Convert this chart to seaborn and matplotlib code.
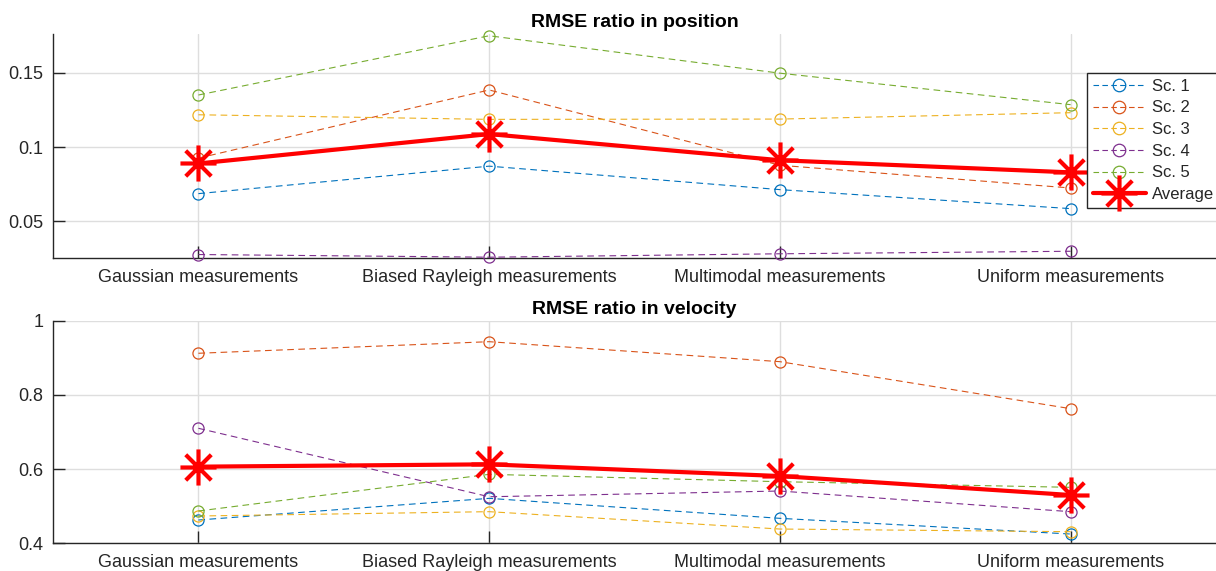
import matplotlib
matplotlib.use("Agg")
import matplotlib.pyplot as plt
import seaborn as sns
import pandas as pd
from matplotlib.ticker import FuncFormatter, FixedLocator
from matplotlib.path import Path

# ---- data ----
categories = ["Gaussian measurements", "Biased Rayleigh measurements",
              "Multimodal measurements", "Uniform measurements"]
series_names = ["Sc. 1", "Sc. 2", "Sc. 3", "Sc. 4", "Sc. 5"]
avg_name = "Average"

pos_sc1 = [0.0687, 0.0872, 0.0714, 0.0586]
pos_sc2 = [0.0926, 0.1385, 0.0878, 0.0725]
pos_sc3 = [0.1218, 0.1187, 0.1189, 0.1232]
pos_sc4 = [0.0277, 0.0259, 0.0282, 0.0299]
pos_sc5 = [0.1351, 0.1750, 0.1498, 0.1286]
pos_avg = [0.0890, 0.1088, 0.0912, 0.0830]

vel_sc1 = [0.4622, 0.5207, 0.4667, 0.4243]
vel_sc2 = [0.9127, 0.9440, 0.8900, 0.7630]
vel_sc3 = [0.4730, 0.4847, 0.4378, 0.4306]
vel_sc4 = [0.7100, 0.5250, 0.5405, 0.4847]
vel_sc5 = [0.4865, 0.5856, 0.5657, 0.5505]
vel_avg = [0.6063, 0.6126, 0.5810, 0.5297]

pos_yticks = [0.05, 0.1, 0.15]
vel_yticks = [0.4, 0.6, 0.8, 1.0]
titles = ["RMSE ratio in position", "RMSE ratio in velocity"]

# ---- style ----
sc_colors = ["#0072BD", "#D95319", "#EDB120", "#7E2F8E", "#77AC30"]
avg_color = "#FF0000"
text_color = "#262626"

sns.set_theme(style="white")
plt.rcParams["font.family"] = ["Liberation Sans", "DejaVu Sans"]

fig = plt.figure(figsize=(12.16, 5.71), dpi=100)
ax_top = fig.add_axes([0.0436, 0.548, 0.9564, 0.3925])
ax_bot = fig.add_axes([0.0436, 0.049, 0.9564, 0.3889])

# MATLAB-like asterisk: '+' plus a shorter 'x'
d = 0.707
asterisk = Path(
    [(-1, 0), (1, 0), (0, -1), (0, 1), (-d, -d), (d, d), (-d, d), (d, -d)],
    [Path.MOVETO, Path.LINETO] * 4,
)


def draw(ax, sc_list, avg, yticks, ylim, title):
    for name, vals, col in zip(series_names, sc_list, sc_colors):
        df = pd.DataFrame({"cat": categories, "val": vals})
        sns.lineplot(data=df, x="cat", y="val", ax=ax, color=col,
                     linestyle=(0, (6, 4)), linewidth=0.8, marker="o",
                     markersize=8, markerfacecolor="none",
                     markeredgecolor=col, markeredgewidth=0.9,
                     sort=False, label=name, zorder=3, clip_on=False)
    dfa = pd.DataFrame({"cat": categories, "val": avg})
    sns.lineplot(data=dfa, x="cat", y="val", ax=ax, color=avg_color,
                 linewidth=3, marker=asterisk, markersize=26,
                 markerfacecolor="none",
                 markeredgecolor=avg_color, markeredgewidth=3,
                 sort=False, label=avg_name, zorder=4, clip_on=False)
    ax.set_xlim(-0.5, 3.5)
    ax.set_ylim(*ylim)
    ax.yaxis.set_major_locator(FixedLocator(yticks))
    ax.yaxis.set_major_formatter(FuncFormatter(lambda v, p: f"{v:g}"))
    ax.set_xlabel("")
    ax.set_ylabel("")
    ax.set_title(title, fontsize=14, fontweight="bold", color="black", pad=5)
    ax.grid(True, color="#dedede", linewidth=1)
    ax.set_axisbelow(True)
    for s in ["top", "right"]:
        ax.spines[s].set_visible(False)
    for s in ["left", "bottom"]:
        ax.spines[s].set_color(text_color)
        ax.spines[s].set_linewidth(1)
    ax.tick_params(axis="both", direction="in", length=8.5, width=1,
                   color=text_color, labelcolor=text_color, labelsize=13,
                   left=True, bottom=True)
    ax.tick_params(axis="x", pad=8)
    ax.tick_params(axis="y", pad=7)
    leg = ax.get_legend()
    if leg is not None:
        leg.remove()


draw(ax_top, [pos_sc1, pos_sc2, pos_sc3, pos_sc4, pos_sc5], pos_avg,
     pos_yticks, (0.0253, 0.1762), titles[0])
draw(ax_bot, [vel_sc1, vel_sc2, vel_sc3, vel_sc4, vel_sc5], vel_avg,
     vel_yticks, (0.4, 1.0), titles[1])

handles, labels = ax_top.get_legend_handles_labels()
leg = fig.legend(handles, labels, loc="upper left",
                 bbox_to_anchor=(0.8939, 0.8722), fontsize=12,
                 frameon=True, fancybox=False, edgecolor=text_color,
                 framealpha=1, borderpad=0.35, labelspacing=0.4,
                 handlelength=3.2, handletextpad=0.35, borderaxespad=0)
leg.get_frame().set_linewidth(1)
for h in leg.legend_handles[:-1]:
    h.set_linestyle((0, (5, 3)))
    h.set_markersize(9)
leg.legend_handles[-1].set_markersize(26)
leg.legend_handles[-1].set_markeredgewidth(3)

fig.savefig("out.png", dpi=100)
